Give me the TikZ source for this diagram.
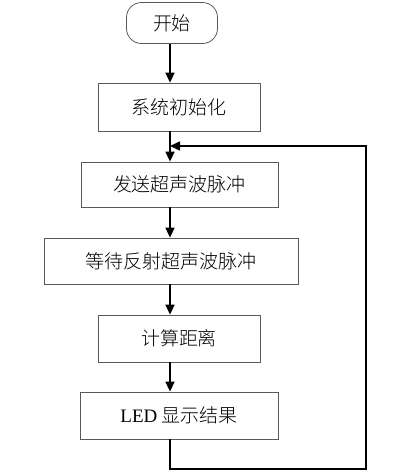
\documentclass[tikz,border=0pt]{standalone}
\usepackage{fontspec}
\setmainfont{Liberation Serif}
\newfontfamily\cjk{Noto Sans CJK SC Light}
\usetikzlibrary{arrows.meta}

\begin{document}
\begin{tikzpicture}[x=1pt,y=-1pt,line cap=butt,line join=miter,
  stepbox/.style={draw=black!65,line width=0.8pt,inner sep=0pt,
    font=\fontsize{19}{21}\selectfont\cjk},
  flow/.style={line width=1.5pt,-{Triangle[width=9pt,length=10pt]}}]
  \useasboundingbox (0,0) rectangle (407,475);
  \coordinate (spine) at (170,0);
  \coordinate (loopbr) at (366,469);
  \coordinate (loopin) at (170,146);
  \node[stepbox,rounded corners=15pt,minimum width=91pt,minimum height=41pt] (start) at (172,23) {开始};
  \node[stepbox,minimum width=162pt,minimum height=48pt] (init) at (179,107) {系统初始化};
  \node[stepbox,minimum width=197pt,minimum height=45pt] (send) at (179.5,184.5) {发送超声波脉冲};
  \node[stepbox,minimum width=254pt,minimum height=46pt] (wait) at (171,261) {等待反射超声波脉冲};
  \node[stepbox,minimum width=162pt,minimum height=47pt] (calc) at (179,338.5) {计算距离};
  \node[stepbox,minimum width=198pt,minimum height=47pt] (show) at (179,415.5) {{\rmfamily LED} 显示结果};
  \draw[flow] (spine |- start.south) -- (spine |- init.north);
  \draw[flow] (spine |- init.south) -- (spine |- send.north);
  \draw[flow] (spine |- send.south) -- (spine |- wait.north);
  \draw[flow] (spine |- wait.south) -- (spine |- calc.north);
  \draw[flow] (spine |- calc.south) -- (spine |- show.north);
  \draw[flow] (spine |- show.south) |- (loopbr) |- (loopin);
\end{tikzpicture}
\end{document}
